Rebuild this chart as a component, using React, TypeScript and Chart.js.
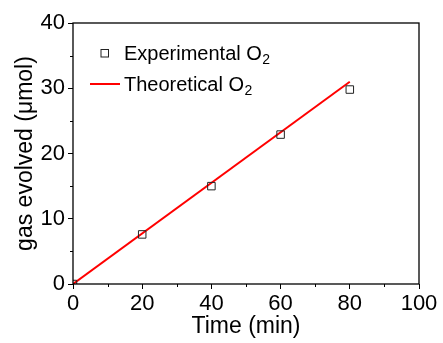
import React, { useEffect, useRef } from 'react';
import { Chart, registerables } from 'chart.js';

Chart.register(...registerables);

// ---- data ----
const timeMin = [0, 20, 40, 60, 80];
const experimentalO2 = [0, 7.6, 15.0, 22.9, 29.8];
const theoreticalTime = [0, 80];
const theoreticalO2 = [0, 31];
const xMinorTicks = [10, 30, 50, 70, 90];
const yMinorTicks = [5, 15, 25, 35];
const legendBase = ['Experimental O', 'Theoretical O'];
const legendSub = ['2', '2'];
const xTitle = 'Time (min)';
const yTitle = 'gas evolved (\u03BCmol)';

const FONT = '"Liberation Sans", Arial, sans-serif';

const framePlugin = {
  id: 'frameAndLegend',
  afterDraw(chart: any) {
    const { ctx, chartArea: a, scales } = chart;
    const x = scales.x;
    const y = scales.y;
    ctx.save();
    // frame
    ctx.strokeStyle = '#000';
    ctx.lineWidth = 1.3;
    ctx.strokeRect(a.left, a.top, a.right - a.left, a.bottom - a.top);
    // minor ticks
    ctx.lineWidth = 1;
    ctx.beginPath();
    xMinorTicks.forEach((v) => {
      const px = Math.round(x.getPixelForValue(v)) + 0.5;
      ctx.moveTo(px, a.bottom);
      ctx.lineTo(px, a.bottom + 3);
    });
    yMinorTicks.forEach((v) => {
      const py = Math.round(y.getPixelForValue(v)) + 0.5;
      ctx.moveTo(a.left, py);
      ctx.lineTo(a.left - 3, py);
    });
    ctx.stroke();

    // legend
    const lx = a.left + 31.5;
    const ly0 = a.top + 30;
    const gap = 31;
    ctx.textBaseline = 'alphabetic';
    ctx.textAlign = 'left';
    legendBase.forEach((label, i) => {
      const cy = ly0 + i * gap;
      if (i === 0) {
        ctx.strokeStyle = '#222';
        ctx.lineWidth = 1;
        ctx.strokeRect(lx - 3.5, cy - 3.5, 7.5, 7.5);
      } else {
        ctx.strokeStyle = '#ff0000';
        ctx.lineWidth = 2;
        ctx.beginPath();
        ctx.moveTo(lx - 14.5, cy);
        ctx.lineTo(lx + 15.5, cy);
        ctx.stroke();
      }
      ctx.fillStyle = '#000';
      ctx.font = `20px ${FONT}`;
      const tx = lx + 19.5;
      const base = cy + 6.5;
      ctx.fillText(label, tx, base);
      const w = ctx.measureText(label).width;
      ctx.font = `14px ${FONT}`;
      ctx.fillText(legendSub[i], tx + w + 0.5, base + 4.5);
    });
    ctx.restore();
  },
};

export default function App() {
  const ref = useRef<HTMLCanvasElement | null>(null);
  useEffect(() => {
    if (!ref.current) return;
    const chart = new Chart(ref.current, {
      type: 'scatter',
      data: {
        datasets: [
          {
            label: 'Experimental O2',
            data: timeMin.map((t, i) => ({ x: t, y: experimentalO2[i] })),
            pointStyle: 'rect',
            pointRadius: 5.3,
            pointBorderWidth: 1,
            borderColor: '#222',
            backgroundColor: 'rgba(0,0,0,0)',
            showLine: false,
            clip: 0,
          } as any,
          {
            type: 'line',
            label: 'Theoretical O2',
            data: theoreticalTime.map((t, i) => ({ x: t, y: theoreticalO2[i] })),
            borderColor: '#ff0000',
            borderWidth: 2,
            pointRadius: 0,
            showLine: true,
            fill: false,
            clip: 0,
          } as any,
        ],
      },
      options: {
        animation: false,
        responsive: false,
        devicePixelRatio: 1,
        layout: { padding: { left: 0, top: 23, right: 24, bottom: 0 } },
        plugins: { legend: { display: false }, tooltip: { enabled: false } },
        scales: {
          x: {
            type: 'linear',
            min: 0,
            max: 100,
            ticks: {
              stepSize: 20,
              color: '#000',
              padding: 2,
              font: { family: FONT, size: 22 },
              maxRotation: 0,
            },
            grid: { drawOnChartArea: false, drawTicks: true, tickLength: 5, color: '#000', lineWidth: 1 },
            border: { display: false },
            title: {
              display: true,
              text: xTitle,
              color: '#000',
              font: { family: FONT, size: 23 },
              padding: { top: 0, bottom: 3 },
            },
            afterFit: (s: any) => {
              s.height = 59;
            },
          },
          y: {
            type: 'linear',
            min: 0,
            max: 40,
            ticks: {
              stepSize: 10,
              color: '#000',
              padding: 3,
              font: { family: FONT, size: 22 },
            },
            grid: { drawOnChartArea: false, drawTicks: true, tickLength: 5, color: '#000', lineWidth: 1 },
            border: { display: false },
            title: {
              display: true,
              text: yTitle,
              color: '#000',
              font: { family: FONT, size: 23 },
              padding: { top: 12, bottom: 0 },
            },
            afterFit: (s: any) => {
              s.width = 73;
            },
          },
        },
      },
      plugins: [framePlugin],
    });
    return () => chart.destroy();
  }, []);
  return (
    <canvas
      ref={ref}
      width={443}
      height={343}
      style={{ position: 'absolute', left: 0, top: 0, width: 443, height: 343 }}
    />
  );
}
